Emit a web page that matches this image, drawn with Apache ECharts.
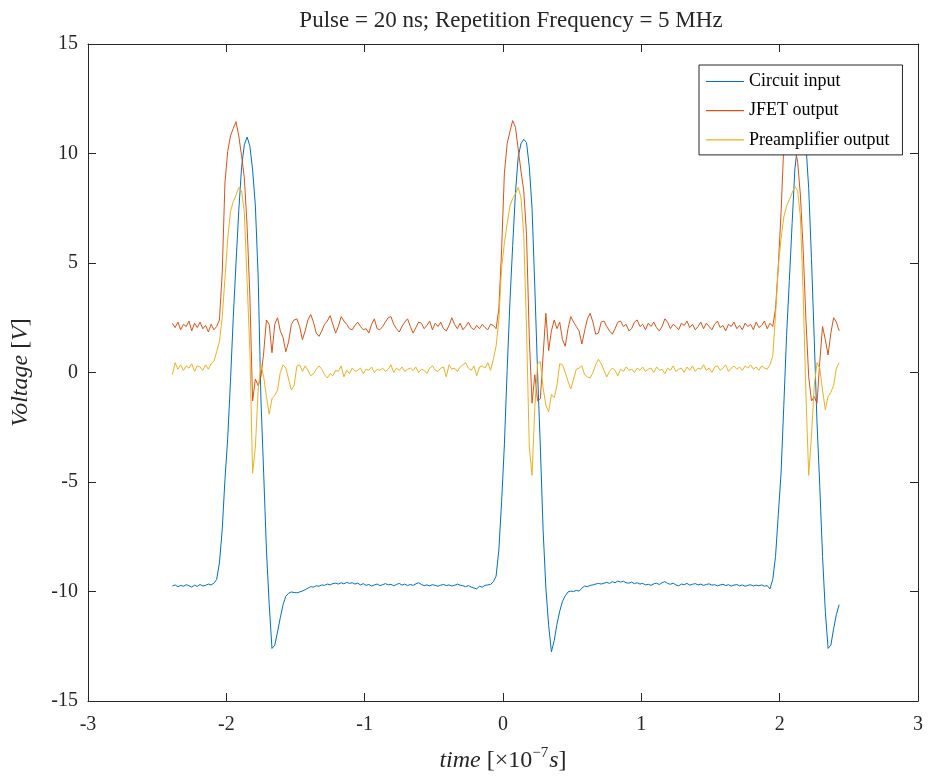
<!DOCTYPE html>
<html><head><meta charset="utf-8">
<script src="https://cdn.jsdelivr.net/npm/echarts/dist/echarts.min.js"></script>
<style>html,body{margin:0;padding:0;background:#fff}#c{width:928px;height:778px}</style>
</head><body><div id="c"></div>
<script>
// time in units of 1e-7 s
const time = [
-2.39,-2.37,-2.35,-2.33,-2.31,-2.29,-2.27,-2.25,-2.23,-2.21,-2.19,-2.17,-2.15,-2.13,-2.11,-2.09,
-2.07,-2.05,-2.03,-2.01,-1.99,-1.97,-1.95,-1.93,-1.91,-1.89,-1.87,-1.85,-1.83,-1.81,-1.79,-1.77,-1.75,-1.73,-1.71,-1.69,-1.67,-1.65,-1.63,-1.61,-1.59,-1.57,-1.55,-1.53,-1.51,
-1.49,-1.47,-1.45,-1.43,-1.41,-1.39,-1.37,-1.35,-1.33,-1.31,-1.29,-1.27,-1.25,-1.23,-1.21,-1.19,-1.17,-1.15,-1.13,-1.11,-1.09,-1.07,-1.05,-1.03,-1.01,-0.99,-0.97,-0.95,-0.93,-0.91,-0.89,-0.87,-0.85,-0.83,-0.81,-0.79,-0.77,-0.75,-0.73,-0.71,-0.69,-0.67,-0.65,-0.63,-0.61,-0.59,-0.57,-0.55,-0.53,-0.51,-0.49,-0.47,-0.45,-0.43,-0.41,-0.39,-0.37,-0.35,-0.33,-0.31,-0.29,-0.27,-0.25,-0.23,-0.21,-0.19,-0.17,-0.15,-0.13,-0.11,-0.09,-0.07,
-0.05,-0.03,-0.01,0.01,0.03,0.05,0.07,0.09,0.11,0.13,0.15,0.17,0.19,0.21,0.23,0.25,0.27,0.29,0.31,0.33,0.35,0.37,0.39,0.41,0.43,0.45,0.47,0.49,0.51,0.53,0.55,0.57,0.59,0.61,0.63,0.65,0.67,0.69,0.71,
0.73,0.75,0.77,0.79,0.81,0.83,0.85,0.87,0.89,0.91,0.93,0.95,0.97,0.99,1.01,1.03,1.05,1.07,1.09,1.11,1.13,1.15,1.17,1.19,1.21,1.23,1.25,1.27,1.29,1.31,1.33,1.35,1.37,1.39,1.41,1.43,1.45,1.47,1.49,1.51,1.53,1.55,1.57,1.59,1.61,1.63,1.65,1.67,1.69,1.71,1.73,1.75,1.77,1.79,1.81,1.83,1.85,1.87,1.89,1.91,1.93,
1.95,1.97,1.99,2.01,2.03,2.05,2.07,2.09,2.11,2.13,2.15,2.17,2.19,2.21,2.23,2.25,2.27,2.29,2.31,2.33,2.35,2.37,2.39,2.41,2.43
];

const circuitInput = [
-9.75,-9.70,-9.78,-9.72,-9.76,-9.69,-9.74,-9.80,-9.71,-9.77,-9.68,-9.75,-9.72,-9.66,-9.70,-9.62,
-9.45,-8.7,-7.2,-4.9,-3.0,-0.4,2.5,5.0,7.4,9.35,10.4,10.75,10.35,9.25,7.6,4.4,-1.2,-4.6,-8.1,-10.6,-12.6,-12.45,-11.85,-11.2,-10.6,-10.22,-10.08,-10.02,-10.05,
-10.06,-10.02,-9.98,-9.92,-9.85,-9.78,-9.80,-9.74,-9.76,-9.70,
-9.72,-9.66,-9.70,-9.64,-9.62,-9.66,-9.60,-9.65,-9.58,-9.63,
-9.60,-9.66,-9.62,-9.70,-9.64,-9.72,-9.68,-9.75,-9.70,-9.66,
-9.73,-9.69,-9.64,-9.70,-9.67,-9.74,-9.68,-9.63,-9.71,-9.66,
-9.73,-9.68,-9.72,-9.65,-9.60,-9.68,-9.73,-9.70,-9.74,-9.69,
-9.72,-9.76,-9.71,-9.68,-9.73,-9.70,-9.75,-9.72,-9.66,-9.71,
-9.74,-9.78,-9.73,-9.80,-9.84,-9.88,-9.76,-9.80,-9.72,-9.70,-9.68,-9.55,
-9.3,-8.1,-5.9,-3.3,0.1,3.2,5.8,8.2,9.85,10.45,
10.65,10.5,9.4,7.5,3.9,0.0,-3.4,-7.2,-9.85,-11.55,
-12.75,-12.25,-11.5,-10.9,-10.45,-10.2,-10.02,-9.98,-10.0,-9.95,
-9.98,-9.85,-9.75,-9.78,-9.72,-9.70,-9.66,-9.63,-9.66,
-9.62,-9.58,-9.63,-9.55,-9.60,-9.52,-9.57,-9.53,-9.60,-9.62,
-9.57,-9.64,-9.60,-9.66,-9.63,-9.70,-9.67,-9.72,-9.65,-9.62,
-9.68,-9.60,-9.55,-9.63,-9.67,-9.62,-9.70,-9.74,-9.66,-9.69,
-9.63,-9.71,-9.67,-9.64,-9.70,-9.66,-9.72,-9.68,-9.65,-9.71,
-9.69,-9.74,-9.70,-9.67,-9.73,-9.69,-9.75,-9.71,-9.68,-9.74,
-9.70,-9.76,-9.72,-9.69,-9.75,-9.71,-9.74,-9.70,-9.76,-9.73,-9.88,
-9.45,-8.4,-6.5,-4.6,-1.5,1.7,4.2,6.8,9.3,10.4,10.7,10.65,10.4,8.4,5.2,1.5,-2.3,-5.2,-8.4,-10.9,-12.6,-12.45,-11.7,-11.05,-10.6
];

const jfetOutput = [
2.25,2.05,2.30,1.95,2.20,2.10,2.35,1.90,2.25,2.05,2.30,2.00,2.15,1.85,2.20,1.95,
2.1,2.4,4.5,8.66,10.1,10.8,11.15,11.45,10.8,9.9,8.9,6.7,3.5,-1.3,-0.3,-0.6,-0.2,0.9,2.4,2.2,0.9,2.2,2.5,1.9,1.6,0.95,1.4,2.2,2.4,
2.45,2.1,1.5,1.9,2.4,2.65,2.3,1.8,1.65,1.9,
2.2,2.35,2.6,2.2,1.8,2.1,2.55,2.35,2.2,2.0,
1.95,2.15,2.3,2.1,1.95,2.0,1.8,2.2,2.45,2.0,
1.95,2.1,2.3,2.5,2.55,2.2,2.0,1.85,2.1,2.3,
2.45,2.1,1.8,2.05,2.3,2.25,2.0,2.15,2.35,1.95,
2.25,2.1,2.3,2.0,1.9,2.15,2.5,2.2,2.0,2.25,
1.95,2.1,2.3,2.05,1.95,2.15,2.0,2.2,2.05,1.95,2.2,2.15,
2.0,2.9,5.6,9.1,10.45,11.0,11.5,11.2,10.2,9.2,
8.3,6.3,1.6,-1.4,-0.1,-1.3,-1.2,0.8,2.7,1.0,
1.9,2.4,2.0,2.3,1.5,1.2,2.0,2.55,2.3,2.1,
1.9,1.3,1.9,2.45,2.7,2.3,1.75,1.8,2.3,
2.35,2.1,1.9,1.75,2.0,2.3,2.35,2.1,2.2,1.9,
2.0,2.3,2.4,2.1,2.2,1.95,2.25,2.1,2.3,2.05,
1.9,2.1,2.45,2.3,2.0,2.2,2.1,1.95,2.25,2.15,
2.35,2.05,2.2,1.95,2.1,2.3,2.0,2.25,2.1,1.95,
2.2,2.35,2.05,2.15,1.9,2.2,2.1,2.3,2.0,2.15,
1.95,2.25,2.1,2.2,1.95,2.3,2.05,2.15,2.35,2.0,2.25,
2.1,2.9,4.85,7.3,10.4,11.0,11.5,11.2,10.3,9.6,8.1,5.6,2.4,-0.2,-1.3,-1.1,-1.4,0.5,2.1,1.5,0.8,1.8,2.5,2.3,1.9
];

const preampOutput = [
-0.10,0.45,0.15,0.35,0.10,0.30,0.20,0.40,0.05,0.30,0.25,0.10,0.35,0.15,0.40,0.50,
0.95,1.4,2.5,4.3,6.1,7.35,7.8,8.1,8.45,8.3,7.3,4.2,1.0,-4.6,-3.4,-0.8,0.35,-0.2,-1.1,-1.9,-1.2,-1.05,-0.8,0.0,0.35,0.2,-0.3,-0.8,-0.6,
0.3,0.35,0.05,0.3,0.1,-0.15,-0.05,0.15,0.3,0.15,
-0.1,-0.25,-0.05,-0.15,0.1,0.05,0.3,-0.2,0.1,-0.05,
0.2,0.05,0.1,0.2,-0.05,0.15,0.1,0.25,0.0,0.15,
0.1,0.2,0.05,0.15,0.35,0.0,0.2,0.1,0.25,0.05,
0.15,0.2,0.1,0.25,0.0,0.15,0.1,-0.05,0.2,0.3,
0.1,0.05,0.2,0.25,-0.2,0.35,0.15,0.2,0.05,0.25,
0.35,0.45,0.2,0.1,0.3,-0.15,0.25,0.3,0.2,0.45,0.1,0.6,
1.2,2.4,4.8,5.9,6.8,7.6,7.95,8.15,8.45,8.0,
6.3,2.0,-3.4,-4.7,-1.6,0.4,0.5,-0.7,-1.5,-1.8,
-1.0,-1.15,-0.6,0.4,0.35,0.0,-0.4,-0.75,-0.3,0.15,
0.2,0.3,-0.1,-0.2,-0.25,0.0,0.35,0.6,0.4,
0.1,-0.2,0.05,0.2,0.1,-0.15,0.15,0.05,0.25,0.1,
0.15,0.0,0.2,0.1,0.25,0.05,0.15,0.2,0.0,0.25,
0.1,0.15,-0.05,0.2,0.1,0.3,0.05,0.15,0.2,0.0,
0.25,0.1,0.3,0.05,0.2,0.15,0.35,0.1,0.2,0.0,
0.25,0.3,0.1,0.2,0.35,0.05,0.2,0.3,0.15,0.25,
0.1,0.3,0.2,0.35,0.15,0.25,0.1,0.3,0.2,0.15,0.35,
0.75,2.6,4.85,6.1,7.1,7.6,7.9,8.2,8.5,8.3,7.1,3.6,-1.0,-4.7,-2.9,-0.6,0.45,0.2,-0.8,-1.7,-1.1,-0.9,-0.6,0.2,0.45
];

const seriesNames = ['Circuit input', 'JFET output', 'Preamplifier output'];
const seriesColors = ['#0072BD', '#D95319', '#EDB120'];
const xTicks = { min: -3, max: 3, step: 1 };
const yTicks = { min: -15, max: 15, step: 5 };
const titleText = 'Pulse = 20 ns; Repetition Frequency = 5 MHz';

const FONT = 'Liberation Serif';
const AX = '#262626';

function pairs(vals) {
  const n = Math.min(time.length, vals.length);
  const out = [];
  for (let i = 0; i < n; i++) out.push([time[i], vals[i]]);
  return out;
}

const chart = echarts.init(document.getElementById('c'), null, { renderer: 'canvas' });

const baseX = {
  type: 'value', min: xTicks.min, max: xTicks.max, interval: xTicks.step,
  axisLine: { show: true, onZero: false, lineStyle: { color: AX, width: 1 } },
  axisTick: { show: true, inside: true, length: 8, lineStyle: { color: AX, width: 1 } },
  splitLine: { show: false }
};
const baseY = {
  type: 'value', min: yTicks.min, max: yTicks.max, interval: yTicks.step,
  axisLine: { show: true, onZero: false, lineStyle: { color: AX, width: 1 } },
  axisTick: { show: true, inside: true, length: 8, lineStyle: { color: AX, width: 1 } },
  splitLine: { show: false }
};

const option = {
  animation: false,
  backgroundColor: '#ffffff',
  title: {
    text: titleText, left: 506, textAlign: 'center', top: 4,
    textStyle: { fontFamily: FONT, fontSize: 23, fontWeight: 'normal', color: AX }
  },
  grid: { left: 88, right: 10, top: 44, bottom: 77, containLabel: false },
  legend: {
    orient: 'vertical', left: 699, top: 65,
    backgroundColor: '#ffffff', borderColor: AX, borderWidth: 1, borderRadius: 0,
    padding: [7.5, 13, 6, 7],
    icon: 'rect',
    itemWidth: 38, itemHeight: 1.2, itemGap: 11.2, itemTextGap: 5,
    textStyle: { fontFamily: FONT, fontSize: 18, lineHeight: 18, color: '#000' },
    data: seriesNames
  },
  xAxis: [
    Object.assign({}, baseX, {
      position: 'bottom',
      axisLabel: { show: true, fontFamily: FONT, fontSize: 20, color: AX, margin: 14 },
      name: '{i|time} [×10{sup|−7}{i|s}]',
      nameLocation: 'middle', nameGap: 45,
      nameTextStyle: {
        fontFamily: FONT, fontSize: 24, color: AX,
        rich: {
          i: { fontFamily: FONT, fontSize: 24, fontStyle: 'italic', color: AX },
          sup: { fontFamily: FONT, fontSize: 15, color: AX, padding: [0, 1, 15, 0] }
        }
      }
    }),
    Object.assign({}, baseX, { position: 'top', axisLabel: { show: false } })
  ],
  yAxis: [
    Object.assign({}, baseY, {
      position: 'left',
      axisLabel: { show: true, fontFamily: FONT, fontSize: 20, color: AX, margin: 10, padding: [5, 0, 0, 0] },
      name: '{i|Voltage} [{i|V}]',
      nameLocation: 'middle', nameGap: 55,
      nameTextStyle: {
        fontFamily: FONT, fontSize: 24, color: AX,
        rich: { i: { fontFamily: FONT, fontSize: 24, fontStyle: 'italic', color: AX } }
      }
    }),
    Object.assign({}, baseY, { position: 'right', axisLabel: { show: false } })
  ],
  series: [circuitInput, jfetOutput, preampOutput].map((vals, k) => ({
    name: seriesNames[k],
    type: 'line',
    xAxisIndex: 0, yAxisIndex: 0,
    data: pairs(vals),
    symbol: 'none', showSymbol: false,
    sampling: null,
    smooth: false,
    color: seriesColors[k],
    itemStyle: { color: seriesColors[k] },
    lineStyle: { color: seriesColors[k], width: 1 },
    z: 2 + k
  }))
};
chart.setOption(option);
</script>
</body></html>
